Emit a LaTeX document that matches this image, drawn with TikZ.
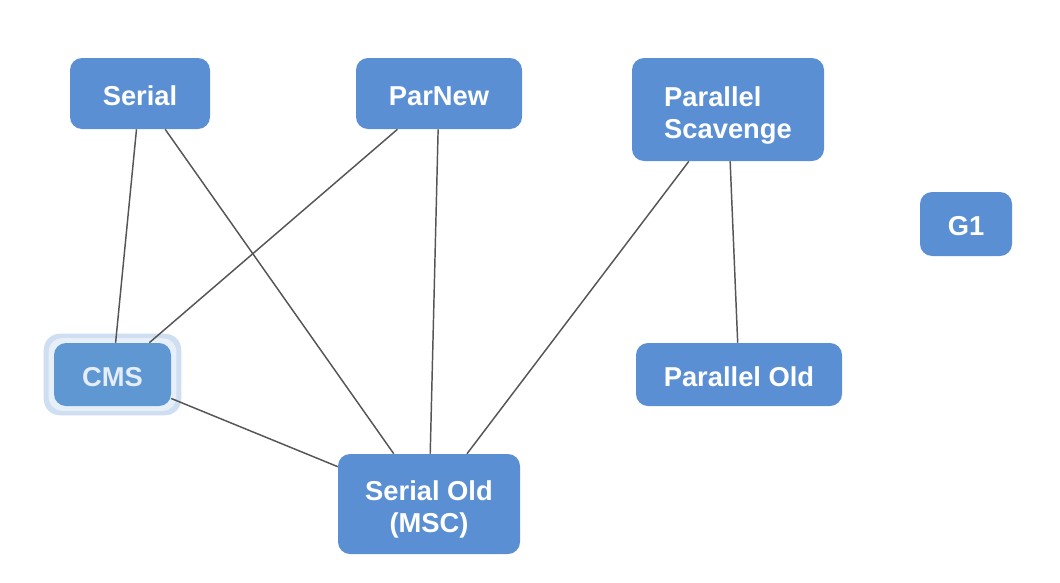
\documentclass[tikz,border=0pt]{standalone}
\usepackage{fontspec}
\setmainfont{Liberation Sans}
\usetikzlibrary{calc}
\pgfdeclarelayer{halo}
\pgfdeclarelayer{edges}
\pgfsetlayers{halo,edges,main}
\definecolor{boxblue}{HTML}{5A8FD3}
\definecolor{cmsblue}{HTML}{5E97D2}
\definecolor{cmstext}{HTML}{E4EDF8}
\definecolor{haloout}{HTML}{CFDEF0}
\definecolor{haloin}{HTML}{E7EFF8}
\definecolor{edgegray}{HTML}{555555}
\newcommand\oneline[1]{\raisebox{0pt}[17.4pt][0pt]{#1}}
\newcommand\twolines[2]{\raisebox{0pt}[0pt][4.9pt]{\setlength\tabcolsep{0pt}\begin{tabular}[t]{#1}#2\end{tabular}}}
\tikzset{
  gcbox/.style={fill=boxblue, draw=none, rounded corners=9pt, text=white,
    font=\fontsize{20.5}{24}\selectfont\bfseries, inner sep=0pt},
  conn/.style={draw=edgegray, line width=1.1pt},
}
\begin{document}
\begin{tikzpicture}[x=0.75pt,y=-0.75pt]
\useasboundingbox (0,0) rectangle (1060,582);
\node[gcbox, minimum width=105pt, minimum height=53.25pt] (serial) at (140,93.5) {\oneline{Serial}};
\node[gcbox, minimum width=124.5pt, minimum height=53.25pt] (parnew) at (439,93.5) {\oneline{ParNew}};
\node[gcbox, minimum width=144pt, minimum height=77.25pt] (ps) at (728,109.5) {\twolines{l}{Parallel\\Scavenge}};
\node[gcbox, minimum width=69pt, minimum height=48pt] (g1) at (966,224) {\oneline{G1}};
\node[gcbox, fill=cmsblue, text=cmstext, minimum width=87.75pt, minimum height=47.25pt] (cms) at (112.5,374.5) {\oneline{CMS}};
\node[gcbox, minimum width=154.5pt, minimum height=47.25pt] (pold) at (739,374.5) {\oneline{Parallel Old}};
\node[gcbox, minimum width=136.5pt, minimum height=75pt] (sold) at (429,504) {\twolines{c}{Serial Old\\(MSC)}};
\begin{pgfonlayer}{halo}
  \fill[haloout, rounded corners=12pt] ($(cms.north west)+(-10,-9)$) rectangle ($(cms.south east)+(10,9)$);
  \fill[haloin, rounded corners=10pt] ($(cms.north west)+(-5,-4.5)$) rectangle ($(cms.south east)+(5,4.5)$);
\end{pgfonlayer}
\begin{pgfonlayer}{edges}
  \draw[conn] (serial) -- (cms);
  \draw[conn] (serial) -- (sold);
  \draw[conn] (parnew) -- (cms);
  \draw[conn] (parnew) -- (sold);
  \draw[conn] (ps) -- (sold);
  \draw[conn] (ps) -- (pold);
  \draw[conn] (cms) -- (sold);
\end{pgfonlayer}
\end{tikzpicture}
\end{document}
